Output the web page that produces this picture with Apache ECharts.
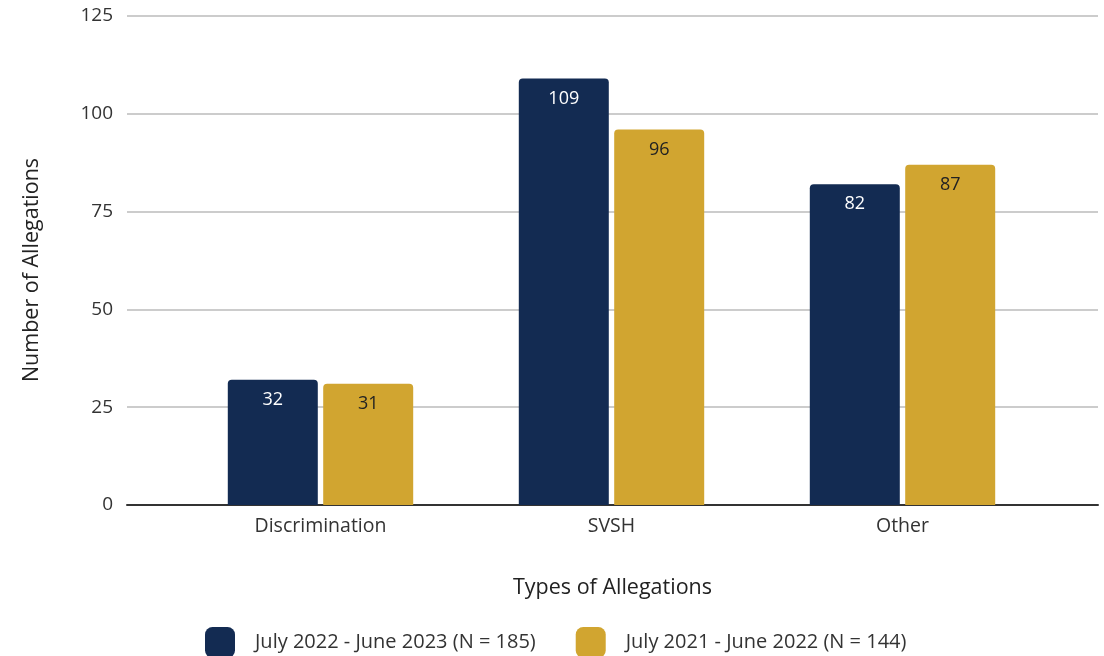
<!DOCTYPE html>
<html><head><meta charset="utf-8">
<script src="https://cdn.jsdelivr.net/npm/echarts@6/dist/echarts.min.js"></script>
<style>html,body{margin:0;padding:0;background:#fff}#c{width:1104px;height:656px}</style>
</head><body><div id="c"></div>
<script>
const categories = ['Discrimination', 'SVSH', 'Other'];
const series2023 = [32, 109, 82];
const series2022 = [31, 96, 87];
const seriesNames = ['July 2022 - June 2023 (N = 185)', 'July 2021 - June 2022 (N = 144)'];
const yTicks = [0, 25, 50, 75, 100, 125];
const xTitle = 'Types of Allegations';
const yTitle = 'Number of Allegations';

const FONT = '"Open Sans", "Noto Sans", sans-serif';
const chart = echarts.init(document.getElementById('c'));
chart.setOption({
  animation: false,
  textStyle: { fontFamily: FONT },
  grid: [
    { left: 127, right: 6, top: 16, bottom: 151 },
    { left: 175, right: 56, top: 16, bottom: 151 }
  ],
  graphic: [{
    type: 'text', x: 32, y: 270, rotation: Math.PI / 2,
    style: { text: yTitle, fontSize: 21.5, fill: '#222', fontFamily: FONT,
      textAlign: 'center', textVerticalAlign: 'middle', align: 'center', verticalAlign: 'middle' }
  }],
  legend: {
    top: 627, left: 205, padding: 0,
    itemWidth: 30, itemHeight: 31, itemGap: 40,
    icon: 'roundRect',
    textStyle: { fontSize: 20, color: '#333', fontFamily: FONT, padding: [0, 0, 0, 15] },
    data: seriesNames
  },
  xAxis: [
    { type: 'category', gridIndex: 0, data: categories, show: true,
      axisLine: { lineStyle: { color: '#333', width: 2 } },
      axisTick: { show: false }, axisLabel: { show: false }, splitLine: { show: false },
      name: xTitle, nameLocation: 'middle', nameGap: 72,
      nameTextStyle: { fontSize: 21.5, color: '#222', fontFamily: FONT, verticalAlign: 'top' } },
    { type: 'category', gridIndex: 1, data: categories,
      axisLine: { show: false }, axisTick: { show: false },
      axisLabel: { fontSize: 19.5, color: '#333', margin: 11, fontFamily: FONT } }
  ],
  yAxis: [
    { type: 'value', gridIndex: 0, min: 0, max: 125, interval: 25,
      axisLine: { show: false }, axisTick: { show: false },
      axisLabel: { fontSize: 19, color: '#333', margin: 14, fontFamily: FONT,
        formatter: v => yTicks.includes(v) ? String(v) : '' },
      splitLine: { lineStyle: { color: '#cccccc', width: 2 } } },
    { type: 'value', gridIndex: 1, min: 0, max: 125, interval: 25, show: false,
      splitLine: { show: false } }
  ],
  series: [
    { name: seriesNames[0], type: 'bar', xAxisIndex: 1, yAxisIndex: 1, data: series2023,
      barWidth: 90, barGap: '6%',
      itemStyle: { color: '#132B52', borderRadius: [4, 4, 0, 0] },
      label: { show: true, position: 'insideTop', distance: 11, fontSize: 18, color: '#ffffff', fontFamily: FONT } },
    { name: seriesNames[1], type: 'bar', xAxisIndex: 1, yAxisIndex: 1, data: series2022,
      barWidth: 90, barGap: '6%',
      itemStyle: { color: '#D1A530', borderRadius: [4, 4, 0, 0] },
      label: { show: true, position: 'insideTop', distance: 11, fontSize: 18, color: '#222222', fontFamily: FONT } }
  ]
});
</script></body></html>
